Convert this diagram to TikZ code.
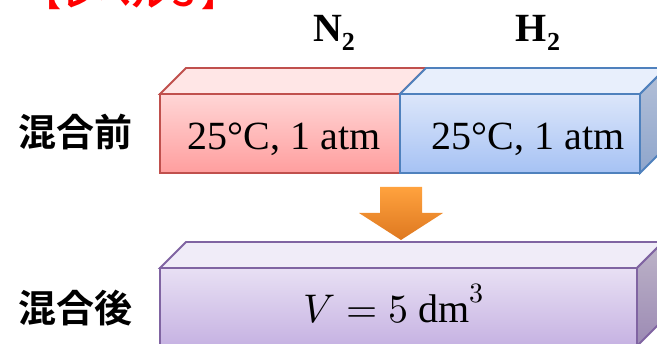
\documentclass[tikz,border=0pt]{standalone}
\usepackage{fontspec}
\usepackage{unicode-math}
\setmainfont{Liberation Serif}
\setmathfont{latinmodern-math.otf}
\newfontfamily\jpfont{Noto Sans CJK JP}[BoldFont={Noto Sans CJK JP Bold}]
\definecolor{redB}{HTML}{C0504D}
\definecolor{redT}{HTML}{FFD6D6}
\definecolor{redBo}{HTML}{FF9E9E}
\definecolor{redTop}{HTML}{FFE6E6}
\definecolor{bluB}{HTML}{4F81BD}
\definecolor{bluT}{HTML}{DCE6FA}
\definecolor{bluBo}{HTML}{A6C2F4}
\definecolor{bluTop}{HTML}{E8EFFC}
\definecolor{bluSideT}{HTML}{B4C0D8}
\definecolor{bluSideB}{HTML}{8FA6CC}
\definecolor{purB}{HTML}{8064A2}
\definecolor{purT}{HTML}{E8E0F4}
\definecolor{purBo}{HTML}{C6B2E2}
\definecolor{purTop}{HTML}{F0ECF8}
\definecolor{purSideT}{HTML}{BDB4C8}
\definecolor{purSideB}{HTML}{9C8AB4}
\definecolor{orT}{HTML}{FFA23E}
\definecolor{orB}{HTML}{DE7820}
\begin{document}
\begin{tikzpicture}[x=1pt,y=-1pt,font=\fontsize{40}{48}\selectfont,
  edge/.style={line width=1.8pt,line join=miter}]
\useasboundingbox (0,0) rectangle (657,344);
\clip (0,0) rectangle (657,344);
% title (cropped)
\node[anchor=base,text=red,inner sep=0] (title) at (132,7) {\jpfont\bfseries\fontsize{35}{35}\selectfont 【レベル３】};
% red box
\path[edge,draw=redB,top color=redTop,bottom color=redTop] (160,94) -- (186,68) -- (426,68) -- (400,94) -- cycle;
\path[edge,draw=redB,top color=redT,bottom color=redBo] (160,94) rectangle (400,173);
% blue box
\path[edge,draw=bluB,top color=bluTop,bottom color=bluTop] (400,94) -- (426,68) -- (666,68) -- (640,94) -- cycle;
\path[edge,draw=bluB,top color=bluSideT,bottom color=bluSideB] (640,94) -- (666,68) -- (666,147) -- (640,173) -- cycle;
\path[edge,draw=bluB,top color=bluT,bottom color=bluBo] (400,94) rectangle (640,173);
% purple box
\path[edge,draw=purB,top color=purTop,bottom color=purTop] (160,268) -- (186,242) -- (663,242) -- (637,268) -- cycle;
\path[edge,draw=purB,top color=purSideT,bottom color=purSideB] (637,268) -- (663,242) -- (663,320) -- (637,346) -- cycle;
\path[edge,draw=purB,top color=purT,bottom color=purBo] (160,268) rectangle (637,346);
% arrow
\path[top color=orT,bottom color=orB] (380,187) -- (422,187) -- (422,213) -- (443,213) -- (401,240) -- (359,213) -- (380,213) -- cycle;
% texts
\node[anchor=base,inner sep=0] (n2) at (334,42) {\bfseries N\raisebox{-9pt}{\fontsize{26}{26}\selectfont 2}};
\node[anchor=base,inner sep=0] (h2) at (538,42) {\bfseries H\raisebox{-9pt}{\fontsize{26}{26}\selectfont 2}};
\node[anchor=base,inner sep=0] (t1) at (284,150) {25°C, 1 atm};
\node[anchor=base,inner sep=0] (t2) at (528,150) {25°C, 1 atm};
\node[anchor=base,inner sep=0] (v) at (394,323) {$V = 5\ \mathrm{dm}^3$};
\node[inner sep=0] (l1) at (76,132) {\jpfont\bfseries\fontsize{38}{38}\selectfont 混合前};
\node[inner sep=0] (l2) at (76,308) {\jpfont\bfseries\fontsize{38}{38}\selectfont 混合後};
\end{tikzpicture}
\end{document}
